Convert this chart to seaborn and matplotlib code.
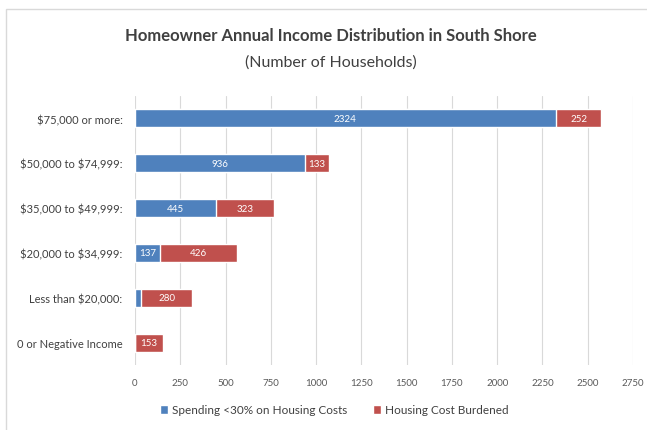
import matplotlib
matplotlib.use("Agg")
import matplotlib.pyplot as plt
import seaborn as sns
import pandas as pd
from matplotlib.patches import Rectangle

categories = ["$75,000 or more:", "$50,000 to $74,999:", "$35,000 to $49,999:",
              "$20,000 to $34,999:", "Less than $20,000:", "0 or Negative Income"]
spending = [2324, 936, 445, 137, 35, 0]
burdened = [252, 133, 323, 426, 280, 153]
ticks = [0, 250, 500, 750, 1000, 1250, 1500, 1750, 2000, 2250, 2500, 2750]

blue = "#4F81BD"
red = "#C0504D"

sns.set_theme(style="white")
plt.rcParams["font.family"] = ["Lato", "DejaVu Sans"]
plt.rcParams["text.parse_math"] = False

df = pd.DataFrame({"cat": categories, "spend": spending, "burden": burdened})
df["total"] = df["spend"] + df["burden"]

fig = plt.figure(figsize=(6.47, 4.31), dpi=100)
ax = fig.add_axes([135 / 647, 1 - 366 / 431, (633 - 135) / 647, (366 - 97) / 431])

sns.barplot(data=df, y="cat", x="total", color=red, width=0.4, ax=ax,
            saturation=1, label="Housing Cost Burdened", zorder=2)
sns.barplot(data=df, y="cat", x="spend", color=blue, width=0.4, ax=ax,
            saturation=1, label="Spending <30% on Housing Costs", zorder=3)

for i, (s, b) in enumerate(zip(spending, burdened)):
    if s >= 100:
        ax.text(s / 2, i, str(s), ha="center", va="center", color="white",
                fontsize=7, zorder=4)
    ax.text(s + b / 2, i, str(b), ha="center", va="center", color="white",
            fontsize=7, zorder=4)

ax.set_xlim(0, 2750)
ax.set_xticks(ticks)
ax.set_xticklabels([str(t) for t in ticks], fontsize=7, color="#595959")
ax.tick_params(axis="y", labelsize=8, labelcolor="#404040", length=0, pad=9)
ax.tick_params(axis="x", length=0, pad=9)
ax.set_xlabel("")
ax.set_ylabel("")
ax.grid(axis="x", color="#D9D9D9", linewidth=0.8, zorder=0)
ax.set_axisbelow(True)
for sp in ax.spines.values():
    sp.set_visible(False)

handles, labels = ax.get_legend_handles_labels()
leg = fig.legend(handles[::-1], labels[::-1], loc="center", bbox_to_anchor=(334 / 647, 1 - 411 / 431),
                 ncol=2, frameon=False, fontsize=8.5, handlelength=0.7, handleheight=0.7,
                 handletextpad=0.3, columnspacing=2.2)
for t in leg.get_texts():
    t.set_color("#404040")
if ax.get_legend() is not None:
    ax.get_legend().remove()

fig.text(331 / 647, 1 - 36 / 431, "Homeowner Annual Income Distribution in South Shore",
         ha="center", va="center", fontsize=12, fontweight="bold", color="#404040")
fig.text(331 / 647, 1 - 63 / 431, "(Number of Households)",
         ha="center", va="center", fontsize=11.5, color="#404040")

fig.patches.append(Rectangle((6 / 647, -0.1), 1.2, 1 - 10 / 431 + 0.1, transform=fig.transFigure,
                             fill=False, edgecolor="#D9D9D9", linewidth=1))

fig.savefig("out.png", dpi=100)
